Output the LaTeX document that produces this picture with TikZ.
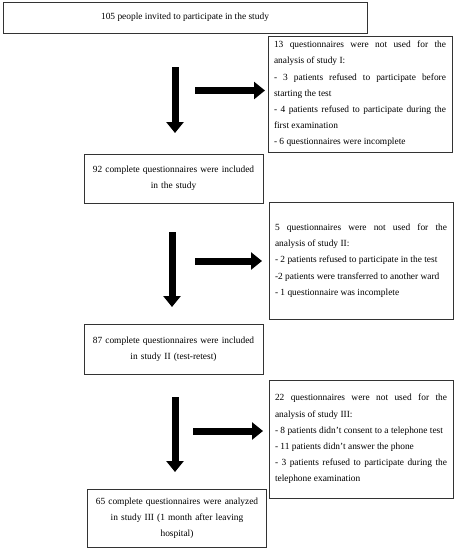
\documentclass[tikz,border=0pt]{standalone}
\usepackage{fontspec}
\setmainfont{Liberation Serif}
\usetikzlibrary{arrows.meta}
\begin{document}
\begin{tikzpicture}[x=1pt,y=-1pt,
  box/.style={draw=black!80,line width=1pt,inner xsep=6pt,inner ysep=0pt,
    font=\fontsize{9.4}{16.2}\selectfont},
  sidebox/.style={box,text width=172pt,minimum height=#1,align=justify},
  mainbox/.style={box,text width=167pt,align=center},
  bigarrow/.style={line width=7pt,-{Triangle[length=11pt,width=17pt]}}]
\useasboundingbox (0,0) rectangle (457,550);
\node[box,minimum width=364pt,minimum height=31pt] (start) at (185,17.5) {105 people invited to participate in the study};
\node[sidebox=116pt] (ex1) at (360,94) {13 questionnaires were not used for the\linebreak analysis of study I:\par
- 3 patients refused to participate before\linebreak starting the test\par
- 4 patients refused to participate during the\linebreak first examination\par
- 6 questionnaires were incomplete};
\node[mainbox,minimum height=49pt] (s92) at (173.5,178.5) {92 complete questionnaires were included\\ in the study};
\node[sidebox=117pt] (ex2) at (361,260.5) {5 questionnaires were not used for the\linebreak analysis of study II:\par
- 2 patients refused to participate in the test\par
-2 patients were transferred to another ward\par
- 1 questionnaire was incomplete};
\node[mainbox,minimum height=50pt] (s87) at (173.5,349) {87 complete questionnaires were included\\ in study II (test-retest)};
\node[sidebox=118pt] (ex3) at (361,439) {22 questionnaires were not used for the\linebreak analysis of study III:\par
- 8 patients didn’t consent to a telephone test\par
- 11 patients didn’t answer the phone\par
- 3 patients refused to participate during the\linebreak telephone examination};
\node[mainbox,minimum height=58pt] (s65) at (177,518) {65 complete questionnaires were analyzed\\ in study III (1 month after leaving\\ hospital)};
% arrow end points
\coordinate (v1a) at (175,67); \coordinate (v1b) at (175,133);
\coordinate (h1a) at (195,90.5); \coordinate (h1b) at (265,90.5);
\coordinate (v2a) at (172,232); \coordinate (v2b) at (172,307);
\coordinate (h2a) at (195,261); \coordinate (h2b) at (262,261);
\coordinate (v3a) at (175,397); \coordinate (v3b) at (175,472);
\coordinate (h3a) at (193,431); \coordinate (h3b) at (263,431);
\draw[bigarrow] (v1a) -- (v1b);
\draw[bigarrow] (h1a) -- (h1b);
\draw[bigarrow] (v2a) -- (v2b);
\draw[bigarrow] (h2a) -- (h2b);
\draw[bigarrow] (v3a) -- (v3b);
\draw[bigarrow] (h3a) -- (h3b);
\end{tikzpicture}
\end{document}
